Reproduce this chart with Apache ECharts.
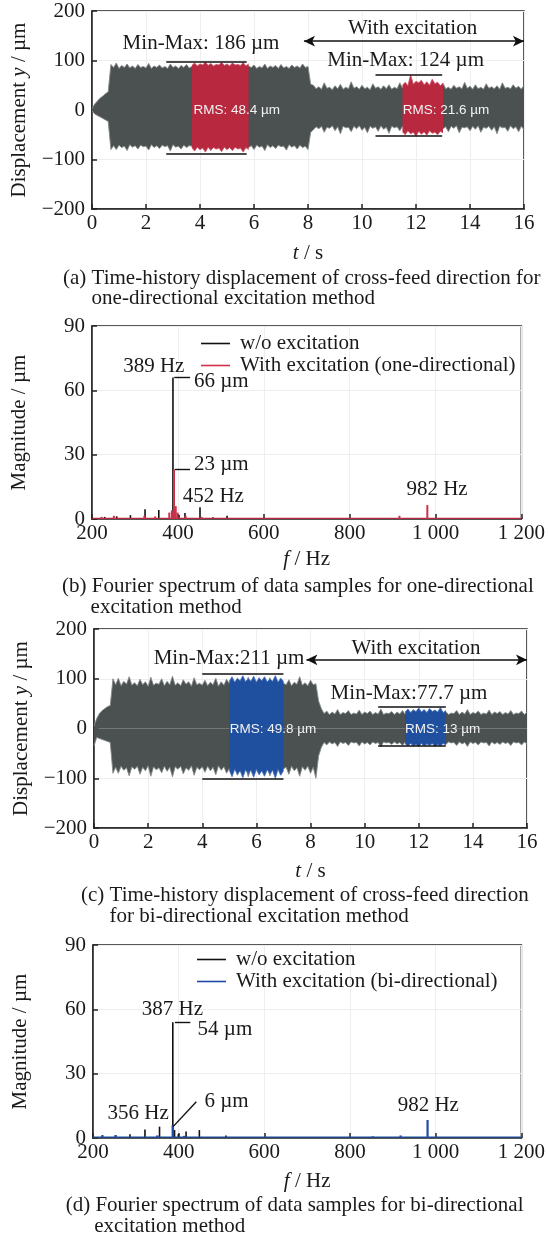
<!DOCTYPE html>
<html>
<head>
<meta charset="utf-8">
<script src="https://cdn.jsdelivr.net/npm/echarts@6/dist/echarts.min.js"></script>
<style>
html,body{margin:0;padding:0;background:#fff;}
#chart{width:548px;height:1239px;}
</style>
</head>
<body>
<div id="chart"></div>
<script>
// ---------------- DATA ----------------
// time-history envelopes, sampled every 0.1 s from t = 0 to 16 s (upper / lower peaks, µm)
const timeStep = 0.1;
const timeTicks = [0, 2, 4, 6, 8, 10, 12, 14, 16];

const dispA_upper = [3,12,18,24,28,33,37,92,
 86,95,84,90,86,93,85,89,84,92,86,88,85,94,84,89,86,91,85,88,84,93,86,89,84,90,86,92,85,
 88,90,86,92,85,89,87,93,85,90,86,91,85,89,86,94,85,88,86,92,85,89,
 86,91,84,88,85,93,84,89,86,90,84,92,85,88,84,91,86,89,85,93,86,
 88,52,
 50,43,47,42,55,44,46,41,49,43,52,42,46,43,57,44,47,42,50,43,46,41,53,44,47,42,49,43,51,42,46,43,55,44,48,43,50,44,47,42,52,44,46,43,49,42,47,44,54,43,46,42,50,44,47,43,56,44,48,42,51,43,46,42,53,44,47,43,49,42,55,44,46,43,51,44,48,42,50];
const dispA_lower = [-2,-8,-11,-14,-17,-20,-23,-80,
 -72,-80,-71,-76,-73,-82,-70,-75,-72,-79,-71,-74,-73,-81,-70,-76,-72,-78,-71,-74,-72,-83,-70,-75,-73,-79,-71,-76,-72,
 -73,-78,-72,-80,-71,-75,-73,-82,-70,-76,-72,-79,-71,-74,-73,-81,-70,-75,-72,-78,-71,-76,
 -72,-80,-71,-75,-73,-82,-70,-76,-72,-78,-71,-74,-73,-81,-70,-75,-72,-79,-71,-76,-73,
 -80,-45,
 -40,-34,-38,-33,-45,-35,-37,-32,-42,-34,-48,-33,-36,-35,-44,-33,-38,-32,-41,-35,-46,-33,-37,-34,-43,-32,-39,-35,-47,-33,-36,-34,-42,-33,-38,-32,-45,-35,-37,-33,-41,-34,-49,-33,-36,-35,-43,-32,-38,-34,-44,-33,-37,-32,-46,-35,-36,-34,-42,-33,-39,-32,-45,-35,-37,-33,-41,-34,-48,-33,-36,-35,-43,-32,-38,-34,-44,-33,-40];

// highlighted (RMS) windows of panel (a)
const rmsA1_start = 3.7;
const rmsA1_upper = [90,95,89,93,91,97,90,94,89,92,91,96,90,93,89,95,91,92,90,96,89,93];
const rmsA1_lower = [-76,-83,-75,-80,-77,-85,-75,-81,-76,-79,-77,-84,-75,-80,-76,-82,-75,-79,-77,-85,-76,-80];
const rmsA2_start = 11.5;
const rmsA2_upper = [50,56,49,71,52,58,55,60,51,57,50,62,53,56,49,54];
const rmsA2_lower = [-44,-50,-42,-48,-45,-53,-43,-49,-44,-51,-42,-47,-45,-50,-43,-46];

const dispC_upper = [5,20,30,36,40,44,46,100,
 88,101,86,95,89,104,87,92,86,99,88,94,85,103,87,91,89,100,86,95,88,105,87,92,86,98,89,94,85,102,88,91,87,97,86,93,88,101,85,94,87,99,
 90,96,88,100,91,95,89,103,90,94,88,99,91,96,89,102,90,95,88,100,91,
 88,98,86,93,89,104,87,92,86,97,88,90,
 55,40,
 30,35,28,33,29,38,28,32,30,36,28,31,29,37,28,33,30,35,28,32,29,39,28,31,30,34,28,33,29,36,28,32,30,38,28,31,29,35,28,33,30,37,28,32,29,34,28,31,30,36,28,33,29,38,28,32,30,35,28,31,29,37,28,33,30,34,28,32,29,36,28,31,30,35,28,33];
const dispC_lower = [-35,-18,-20,-22,-24,-26,-28,-90,
 -78,-90,-76,-84,-79,-95,-77,-82,-76,-92,-78,-85,-75,-96,-77,-83,-79,-89,-76,-86,-78,-97,-77,-82,-76,-91,-79,-84,-75,-94,-78,-83,-77,-88,-76,-85,-78,-93,-75,-84,-77,-90,
 -80,-90,-78,-94,-81,-86,-79,-97,-80,-88,-78,-92,-81,-87,-79,-95,-80,-89,-78,-93,-81,
 -78,-92,-76,-85,-79,-96,-77,-84,-76,-90,-78,-100,
 -55,-38,
 -28,-33,-27,-31,-28,-36,-27,-30,-28,-34,-27,-29,-28,-35,-27,-31,-28,-33,-27,-30,-28,-37,-27,-29,-28,-32,-27,-31,-28,-34,-27,-30,-28,-36,-27,-29,-28,-33,-27,-31,-28,-35,-27,-30,-28,-32,-27,-29,-28,-34,-27,-31,-28,-36,-27,-30,-28,-33,-27,-29,-28,-35,-27,-31,-28,-32,-27,-30,-28,-34,-27,-29,-28,-33,-27,-31];

const rmsC1_start = 5.0;
const rmsC1_upper = [95,104,93,101,96,106,94,100,95,105,93,102,96,104,94,99,95,106,93,101,95];
const rmsC1_lower = [-84,-97,-82,-92,-85,-99,-83,-90,-84,-98,-82,-93,-85,-96,-83,-91,-84,-100,-82,-94,-85];
const rmsC2_start = 11.5;
const rmsC2_upper = [33,39,32,37,34,41,33,38,32,40,34,37,33,42,32,36];
const rmsC2_lower = [-31,-35,-30,-34,-32,-36,-30,-35,-31,-34,-30,-36,-32,-35,-30,-33];

// min-max bars: [tStart, tEnd, value]
const minMaxA = [[2.75,5.73,98],[2.75,5.73,-88],[10.5,12.97,71],[10.5,12.97,-53]];
const minMaxC = [[4.0,7.0,110],[4.0,7.0,-101],[10.5,13.0,43],[10.5,13.0,-34.7]];
// "With excitation" arrow: [tStart, tEnd, value]
const arrowA = [7.85, 16, 139];
const arrowC = [7.85, 16, 138];

// Fourier spectra: [frequency Hz, magnitude µm]
const specB_wo = [[230,1.0],[258,1.3],[290,1.8],[324,4.5],[356,4.2],[389,66],[394,2.5],[403,2.0],[417,2.8],[452,5.5],[482,0.8],[515,1.5]];
const specB_with = [[222,1.0],[251,1.5],[322,1.5],[347,1.2],[380,3.0],[386,4.0],[391,23],[395,6],[399,3],[418,1.5],[455,1.0],[916,1.5],[981,6.5]];
const specB_floor = [[200,0.3],[1200,0.3]];
const specD_wo = [[222,0.8],[253,1.2],[287,1.8],[322,4.0],[356,5.3],[387,54],[391,3.7],[400,1.8],[418,3.0],[449,3.7],[511,1.2]];
const specD_with = [[222,1.4],[253,1.4],[350,1.2],[386,6],[413,1.0],[853,0.8],[918,1.2],[981,8.4]];
const specD_floor = [[200,0.4],[1200,0.4]];
// annotation leader lines: [[f1,m1],[f2,m2]]
const leadB = [[[392,66],[428.7,66]],[[393,23],[428.7,23]]];
const leadD = [[[391.8,54],[428,54]],[[387.7,5.3],[441.9,16.9]]];

const freqTicks = [200, 400, 600, 800, 1000, 1200];
const magTicks = [0, 30, 60, 90];
const dispTicks = [-200, -100, 0, 100, 200];

// ---------------- STYLE ----------------
const SERIF = '"Liberation Serif","Times New Roman",serif';
const SANS = '"Liberation Sans",Arial,sans-serif';
const INK = '#1a1a1a';
const GRAY = '#4b5150', GRAY_EDGE = '#858b8a';
const RED = '#b8283f', RED_EDGE = '#cc5367';
const BLUE = '#1f4f9f', BLUE_EDGE = '#4a72bb';

function seq(start, step, vals){ return vals.map((v,i)=>[+(start+i*step).toFixed(3), v]); }
function fmtFreq(v){ return v >= 1000 ? String(v).replace(/(\d)(\d{3})$/, '$1 $2') : String(v); }
function fmtDisp(v){ return v < 0 ? '\u2212' + Math.abs(v) : String(v); }

const grids = [
  {left:92, right:24, top:11, height:198},
  {left:92, right:24, top:326, height:193},
  {left:94, right:21, top:629, height:199},
  {left:93, right:21, top:945, height:193}
];
grids.forEach(g=>{ g.show = true; g.borderColor = '#222'; g.borderWidth = 1.5; g.backgroundColor = 'transparent'; });

function richName(a, i, b){
  return {
    name: '{n|' + a + '}{i|' + i + '}{n|' + b + '}',
    nameTextStyle: { rich: {
      n: {fontFamily: SERIF, fontSize: 21, color: INK},
      i: {fontFamily: SERIF, fontSize: 21, color: INK, fontStyle: 'italic'}
    }}
  };
}

function xAxisBase(idx, min, max, interval, fmt, nameGap, nameParts){
  return Object.assign({
    type:'value', gridIndex: idx, min, max, interval,
    nameLocation:'middle', nameGap,
    axisLine:{show:true, onZero:false, lineStyle:{color:'#222', width:1.5}},
    axisTick:{show:true, inside:true, length:5, lineStyle:{color:'#222', width:1.5}},
    axisLabel:{fontFamily:SERIF, fontSize:21, color:INK, margin:4, formatter: fmt},
    splitLine:{show:true, lineStyle:{color:'#eeeeee', width:1}}
  }, richName.apply(null, nameParts));
}
function yAxisBase(idx, min, max, interval, fmt, nameGap, nameParts){
  return Object.assign({
    type:'value', gridIndex: idx, min, max, interval,
    nameLocation:'middle', nameGap,
    axisLine:{show:true, onZero:false, lineStyle:{color:'#222', width:1.5}},
    axisTick:{show:true, inside:true, length:5, lineStyle:{color:'#222', width:1.5}},
    axisLabel:{fontFamily:SERIF, fontSize:21, color:INK, margin:7, formatter: fmt},
    splitLine:{show:true, lineStyle:{color:'#eeeeee', width:1}}
  }, richName.apply(null, nameParts));
}

function band(xi, start, up, lo, fill, edge, z, extraUp, extraLo){
  const common = {type:'line', xAxisIndex:xi, yAxisIndex:xi, showSymbol:false, symbol:'none', silent:true, z,
    lineStyle:{color:edge, width:0.9}, areaStyle:{color:fill, opacity:1, origin:'auto'}};
  return [
    Object.assign({}, common, {data: seq(start, timeStep, up)}, extraUp||{}),
    Object.assign({}, common, {data: seq(start, timeStep, lo)}, extraLo||{})
  ];
}
function minMaxLines(list){
  return {silent:true, symbol:'none', z:6, label:{show:false},
    lineStyle:{color:'#111', width:1.6, type:'solid'},
    data: list.map(r=>[{coord:[r[0], r[2]]},{coord:[r[1], r[2]]}])};
}
function arrowLine(a){
  return {silent:true, symbol:['arrow','arrow'], symbolSize:[8,11], z:6, label:{show:false},
    lineStyle:{color:'#111', width:1.5, type:'solid'},
    data:[[{coord:[a[0], a[2]]},{coord:[a[1], a[2]]}]]};
}
function leaders(list){
  return {silent:true, symbol:'none', z:6, label:{show:false},
    lineStyle:{color:'#111', width:1.4, type:'solid'},
    data: list.map(s=>[{coord:s[0]},{coord:s[1]}])};
}

const series = [].concat(
  band(0, 0, dispA_upper, dispA_lower, GRAY, GRAY_EDGE, 2, {markLine: minMaxLines(minMaxA)}, {markLine: arrowLine(arrowA)}),
  band(0, rmsA1_start, rmsA1_upper, rmsA1_lower, RED, RED_EDGE, 3),
  band(0, rmsA2_start, rmsA2_upper, rmsA2_lower, RED, RED_EDGE, 3),
  [
    {type:'bar', name:'w/o excitation', xAxisIndex:1, yAxisIndex:1, data:specB_wo, barWidth:1.6, barGap:'-100%',
      itemStyle:{color:'#111'}, silent:true, z:3, markLine: leaders(leadB)},
    {type:'line', name:'floorB', xAxisIndex:1, yAxisIndex:1, data:specB_floor, showSymbol:false, symbol:'none',
      lineStyle:{color:RED, width:1.2}, silent:true, z:4},
    {type:'bar', name:'With excitation (one-directional)', xAxisIndex:1, yAxisIndex:1, data:specB_with, barWidth:2, barGap:'-100%',
      itemStyle:{color:'#d0304a'}, silent:true, z:5}
  ],
  band(2, 0, dispC_upper, dispC_lower, GRAY, GRAY_EDGE, 2, {markLine: minMaxLines(minMaxC)}, {markLine: arrowLine(arrowC)}),
  band(2, rmsC1_start, rmsC1_upper, rmsC1_lower, BLUE, BLUE_EDGE, 3),
  band(2, rmsC2_start, rmsC2_upper, rmsC2_lower, BLUE, BLUE_EDGE, 3),
  [
    {type:'bar', name:'w/o excitation', xAxisIndex:3, yAxisIndex:3, data:specD_wo, barWidth:1.6, barGap:'-100%',
      itemStyle:{color:'#111'}, silent:true, z:3, markLine: leaders(leadD)},
    {type:'line', name:'floorD', xAxisIndex:3, yAxisIndex:3, data:specD_floor, showSymbol:false, symbol:'none',
      lineStyle:{color:BLUE, width:1.4}, silent:true, z:4},
    {type:'bar', name:'With excitation (bi-directional)', xAxisIndex:3, yAxisIndex:3, data:specD_with, barWidth:2.2, barGap:'-100%',
      itemStyle:{color:'#2149a8'}, silent:true, z:5}
  ]
);

function txt(x, y, text, align, opts){
  return Object.assign({type:'text', x, y, z:20, silent:true,
    style:{text, font:'21px ' + SERIF, fill:INK, align: align||'center', verticalAlign:'middle'}}, opts||{});
}
function rms(x, y, text){
  return {type:'text', x, y, z:20, silent:true,
    style:{text, font:'13.5px ' + SANS, fill:'#f2f2f2', align:'left', verticalAlign:'middle'}};
}

const graphic = [
  // (a)
  txt(201, 43, 'Min-Max: 186 \u00b5m'),
  txt(412.6, 28, 'With excitation'),
  txt(405.6, 60.7, 'Min-Max: 124 \u00b5m'),
  rms(193.4, 110, 'RMS: 48.4 \u00b5m'),
  rms(402.8, 110, 'RMS: 21.6 \u00b5m'),
  txt(63, 278, '(a) Time-history displacement of cross-feed direction for', 'left'),
  txt(91.6, 298, 'one-directional excitation method', 'left'),
  // (b)
  txt(153.8, 366.7, '389 Hz'),
  txt(194, 381.7, '66 \u00b5m', 'left'),
  txt(194, 464, '23 \u00b5m', 'left'),
  txt(213.3, 496, '452 Hz'),
  txt(437, 489.3, '982 Hz'),
  txt(62, 586, '(b) Fourier spectrum of data samples for one-directional', 'left'),
  txt(90.6, 607, 'excitation method', 'left'),
  // (c)
  txt(229, 658.3, 'Min-Max:211 \u00b5m'),
  txt(416, 648.3, 'With excitation'),
  txt(409, 693.3, 'Min-Max:77.7 \u00b5m'),
  rms(229.7, 729, 'RMS: 49.8 \u00b5m'),
  rms(405, 729, 'RMS: 13 \u00b5m'),
  txt(81, 895, '(c) Time-history displacement of cross-feed direction', 'left'),
  txt(109.6, 916, 'for bi-directional excitation method', 'left'),
  // (d)
  txt(172.4, 1009.3, '387 Hz'),
  txt(197.6, 1029, '54 \u00b5m', 'left'),
  txt(204.5, 1101.7, '6 \u00b5m', 'left'),
  txt(138.1, 1113.3, '356 Hz'),
  txt(428.3, 1105, '982 Hz'),
  txt(65.7, 1205, '(d) Fourier spectrum of data samples for bi-directional', 'left'),
  txt(94.3, 1226.7, 'excitation method', 'left')
];

const legendBase = {orient:'vertical', icon:'rect', itemWidth:29, itemHeight:1.6, itemGap:1,
  textStyle:{fontFamily:SERIF, fontSize:21, color:INK, padding:[0,0,0,5]}, selectedMode:false};

const option = {
  animation:false,
  backgroundColor:'#ffffff',
  grid: grids,
  xAxis: [
    xAxisBase(0, 0, 16, 2, null, 34, ['', 't', ' / s']),
    xAxisBase(1, 200, 1200, 200, fmtFreq, 30, ['', 'f', ' / Hz']),
    xAxisBase(2, 0, 16, 2, null, 33, ['', 't', ' / s']),
    xAxisBase(3, 200, 1200, 200, fmtFreq, 33, ['', 'f', ' / Hz'])
  ],
  yAxis: [
    yAxisBase(0, -200, 200, 100, fmtDisp, 62, ['Displacement ', 'y', ' / \u00b5m']),
    yAxisBase(1, 0, 90, 30, null, 62, ['Magnitude / \u00b5m', '', '']),
    yAxisBase(2, -200, 200, 100, fmtDisp, 62, ['Displacement ', 'y', ' / \u00b5m']),
    yAxisBase(3, 0, 90, 30, null, 62, ['Magnitude / \u00b5m', '', ''])
  ],
  legend: [
    Object.assign({}, legendBase, {left:196, top:328, data:['w/o excitation','With excitation (one-directional)']}),
    Object.assign({}, legendBase, {left:192, top:944, data:['w/o excitation','With excitation (bi-directional)']})
  ],
  series,
  graphic
};

const chart = echarts.init(document.getElementById('chart'), null, {renderer:'canvas'});
chart.setOption(option);
</script>
</body>
</html>
